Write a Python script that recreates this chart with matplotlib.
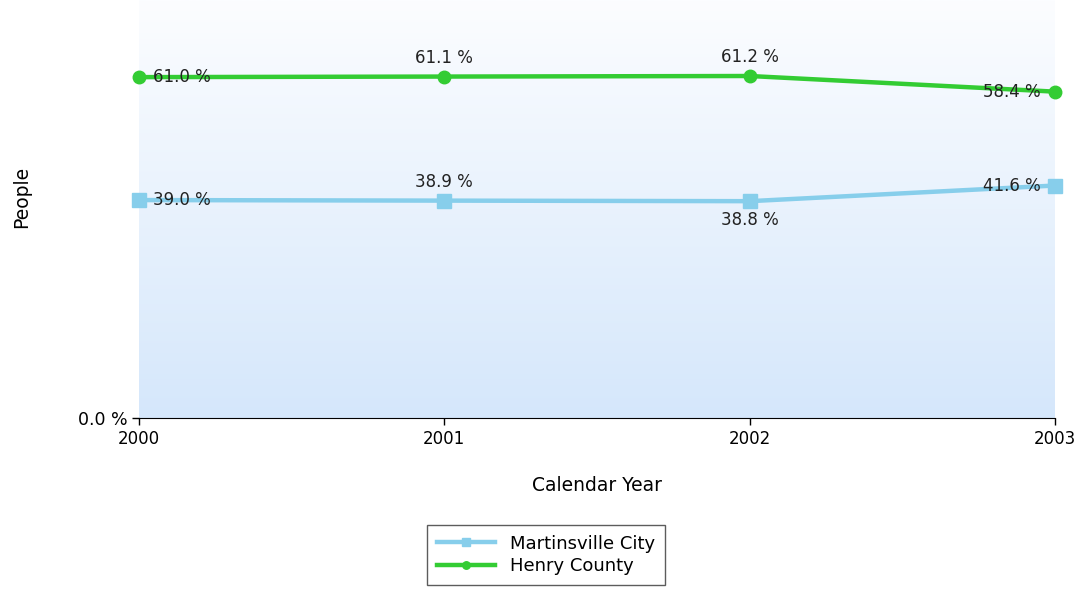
import numpy as np
import matplotlib
matplotlib.use('Agg')
import matplotlib.pyplot as plt
from matplotlib.colors import LinearSegmentedColormap

years = [2000, 2001, 2002, 2003]
martinsville = [39.0, 38.9, 38.8, 41.6]
henry = [61.0, 61.1, 61.2, 58.4]

# label placement per point: (dx, dy, ha, va) in points
blue_pos = [(10, 0, 'left', 'center'), (0, 7, 'center', 'bottom'),
            (0, -7, 'center', 'top'), (-10, 0, 'right', 'center')]
green_pos = [(10, 0, 'left', 'center'), (0, 7, 'center', 'bottom'),
             (0, 7, 'center', 'bottom'), (-10, 0, 'right', 'center')]

fig = plt.figure(figsize=(10.83, 5.89), dpi=100)
ax = fig.add_axes([139/1083, 171/589, 916/1083, 418/589])

ymax = 74.8
cmap = LinearSegmentedColormap.from_list('bg', ['#d5e7fb', '#fcfdff'])
grad = np.linspace(0, 1, 256).reshape(-1, 1)
ax.imshow(grad, cmap=cmap, aspect='auto', origin='lower',
          extent=[years[0], years[-1], 0, ymax], zorder=0)

blue = '#87ceeb'
green = '#33cc33'
ax.plot(years, martinsville, color=blue, lw=3.2, marker='s', ms=10,
        label='Martinsville City', zorder=3, clip_on=False)
ax.plot(years, henry, color=green, lw=3.2, marker='o', ms=9,
        label='Henry County', zorder=3, clip_on=False)

for vals, pos in ((martinsville, blue_pos), (henry, green_pos)):
    for x, v, (dx, dy, ha, va) in zip(years, vals, pos):
        ax.annotate('%.1f %%' % v, (x, v), xytext=(dx, dy), textcoords='offset points',
                    ha=ha, va=va, fontsize=12, color='#222222', zorder=4)

ax.set_xlim(years[0], years[-1])
ax.set_ylim(0, ymax)
ax.set_xticks(years)
ax.set_xticklabels([str(y) for y in years], fontsize=12)
ax.set_yticks([0])
ax.set_yticklabels(['0.0 %'], fontsize=12.5)
ax.tick_params(axis='both', length=5, color='black', width=1)
for s in ['top', 'right', 'left']:
    ax.spines[s].set_visible(False)
ax.spines['bottom'].set_color('black')

ax.set_xlabel('Calendar Year', fontsize=13.5, labelpad=20)
ax.set_ylabel('People', fontsize=13.5)
ax.yaxis.set_label_coords(-0.118, 0.53)

leg = fig.legend(loc='center', bbox_to_anchor=(546/1083, 1 - 555/589), fontsize=13,
                 frameon=True, fancybox=False, edgecolor='#333333', handlelength=3.2,
                 borderpad=0.55, labelspacing=0.25, markerscale=0.6)
leg.get_frame().set_linewidth(1)

fig.savefig('out.png', dpi=100)
